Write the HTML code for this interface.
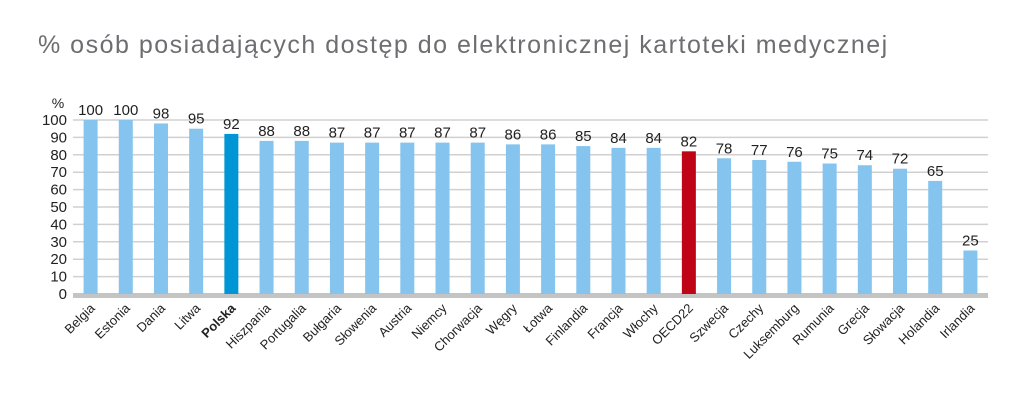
<!DOCTYPE html>
<html><head><meta charset="utf-8"><style>
body{margin:0;background:#fff;width:1024px;height:414px;overflow:hidden}
svg{font-family:"Liberation Sans",sans-serif}
</style></head><body>
<svg width="1024" height="414">
<text x="38" y="53" font-size="25" letter-spacing="1.5" fill="#6d6e71">% osób posiadających dostęp do elektronicznej kartoteki medycznej</text>
<text x="58" y="108" font-size="14" fill="#222" text-anchor="middle">%</text>
<g id="grid"></g><g id="bars"></g>
</svg>
<script>
const countries=["Belgia","Estonia","Dania","Litwa","Polska","Hiszpania","Portugalia","Bułgaria","Słowenia","Austria","Niemcy","Chorwacja","Węgry","Łotwa","Finlandia","Francja","Włochy","OECD22","Szwecja","Czechy","Luksemburg","Rumunia","Grecja","Słowacja","Holandia","Irlandia"];
const values=[100,100,98,95,92,88,88,87,87,87,87,87,86,86,85,84,84,82,78,77,76,75,74,72,65,25];
const yTicks=[0,10,20,30,40,50,60,70,80,90,100];
const NS="http://www.w3.org/2000/svg";
const x0=73,x1=988,y0=294,yTop=120;
const n=countries.length;
const step=(x1-x0)/n;
const xc=i=>x0+step*(i+0.5);
const y=v=>y0-(v/100)*(y0-yTop);
function mk(t,a,p){const e=document.createElementNS(NS,t);for(const k in a)e.setAttribute(k,a[k]);p.appendChild(e);return e;}
const grid=document.getElementById('grid'),bars=document.getElementById('bars');
yTicks.forEach(t=>{
 if(t>0){const l=mk('line',{x1:x0,x2:x1,y1:y(t),y2:y(t),stroke:'#d0d0d0','stroke-width':1.5},grid);
 
 }
 const tx=mk('text',{x:67,y:y(t)+5,'font-size':15,fill:'#222','text-anchor':'end'},grid);tx.textContent=t;
 
 
});
const base=mk('rect',{x:x0,y:y0-1,width:x1-x0,height:5,fill:'#c4c4c4'},grid);


const bw=14;
countries.forEach((c,i)=>{
 const v=values[i];const cx=xc(i);
 const col=c==='Polska'?'#0095d5':c==='OECD22'?'#c00418':'#85c4ee';
 const r=mk('rect',{x:cx-bw/2,y:y(v),width:bw,height:y0-y(v),fill:col},bars);
 
 
 const vt=mk('text',{x:cx,y:y(v)-5,'font-size':15,fill:'#222','text-anchor':'middle'},bars);vt.textContent=v;
 
 
 const lt=mk('text',{x:cx+5,y:309,'font-size':13,fill:'#222','text-anchor':'end',transform:`rotate(-45 ${cx+5} 309)`,'font-weight':c==='Polska'?'bold':'normal'},bars);lt.textContent=c;
 
 
});
</script>
</body></html>
